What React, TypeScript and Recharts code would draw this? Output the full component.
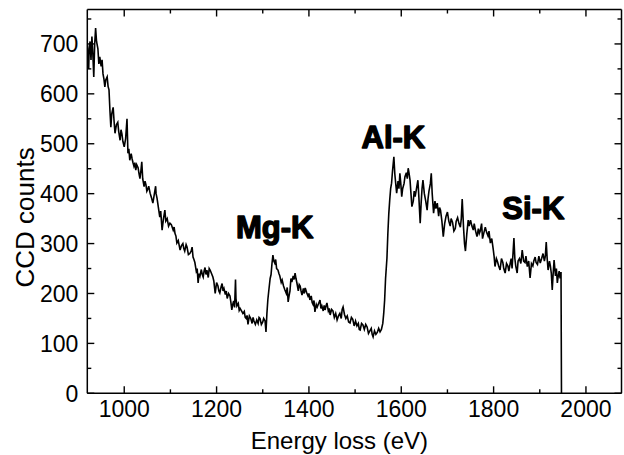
import React from 'react';
import { LineChart, Line, XAxis, YAxis, ReferenceDot } from 'recharts';

// [energy loss (eV), CCD counts], split by region
const preEdge: [number, number][] = [
  [920, 700], [921, 672], [923, 650], [924, 690], [926, 705], [928, 668], [930, 715], [932, 680], [934, 634], [936, 700],
  [938, 732], [940, 705], [943, 690], [945, 660], [947, 674], [950, 655], [952, 668], [954, 640], [956, 630], [958, 614],
  [960, 628], [963, 634], [965, 615], [967, 608], [969, 567], [971, 533], [973, 560], [976, 573], [978, 545], [980, 521],
  [983, 538], [986, 543], [988, 525], [991, 507], [993, 528], [995, 520], [997, 505], [1000, 494], [1003, 510], [1006, 550],
  [1008, 481], [1010, 490], [1012, 467], [1015, 480], [1017, 470], [1019, 462], [1021, 455], [1023, 462], [1025, 447], [1027, 458],
  [1030, 452], [1032, 440], [1034, 430], [1036, 445], [1038, 464], [1040, 430], [1043, 414], [1045, 425], [1047, 418], [1049, 405],
  [1051, 409], [1053, 415], [1056, 401], [1059, 392], [1062, 381], [1065, 398], [1068, 415], [1069, 400], [1071, 391], [1074, 372],
  [1077, 353], [1079, 365], [1082, 327], [1085, 350], [1088, 367], [1090, 345], [1093, 350], [1096, 335], [1099, 341], [1102, 338],
  [1106, 327], [1108, 333], [1110, 320], [1112, 315], [1114, 301], [1117, 306], [1121, 287], [1124, 296], [1127, 300], [1129, 290],
  [1131, 285], [1134, 298], [1136, 293], [1139, 278], [1142, 280], [1145, 285], [1147, 293], [1149, 273], [1151, 268], [1153, 262],
  [1156, 245], [1158, 250], [1160, 221], [1162, 240], [1164, 235], [1167, 248], [1169, 238], [1171, 233], [1173, 245], [1175, 252],
  [1177, 238], [1179, 247], [1182, 232], [1184, 250], [1186, 247], [1189, 240], [1192, 233], [1194, 225], [1197, 200], [1200, 222],
  [1203, 215], [1205, 205], [1207, 201], [1210, 214], [1212, 220], [1214, 205], [1216, 210], [1219, 198], [1221, 205], [1223, 190],
  [1226, 200], [1229, 195], [1231, 182], [1233, 167], [1235, 178], [1237, 185], [1239, 172], [1241, 228], [1242, 190], [1244, 175],
  [1247, 180], [1249, 166], [1251, 170], [1254, 165], [1257, 160], [1260, 164], [1262, 152], [1264, 150], [1266, 156], [1268, 138],
  [1271, 155], [1274, 150], [1277, 140], [1279, 152], [1281, 145], [1284, 138], [1287, 147], [1290, 140], [1292, 152], [1294, 150],
  [1297, 138], [1300, 143], [1302, 150], [1305, 145], [1307, 123],
];

const mgRegion: [number, number][] = [
  [1309, 160], [1311, 187], [1313, 205], [1316, 230], [1318, 238], [1320, 260], [1322, 277], [1324, 265], [1326, 261], [1328, 268],
  [1330, 250], [1333, 247], [1335, 240], [1337, 235], [1340, 222], [1342, 227], [1345, 215], [1348, 207], [1351, 200], [1353, 212],
  [1355, 183], [1357, 195], [1359, 205], [1361, 230], [1363, 223], [1366, 235], [1368, 228], [1370, 241], [1372, 230], [1374, 221],
  [1377, 205], [1379, 218], [1381, 215], [1383, 205], [1385, 197], [1388, 210], [1390, 200], [1392, 211], [1395, 202], [1398, 195],
  [1400, 200], [1402, 187], [1405, 195], [1407, 182], [1409, 178], [1411, 186], [1413, 163], [1416, 178], [1418, 173], [1421, 180],
  [1424, 187], [1426, 170], [1428, 175], [1431, 165], [1433, 176], [1435, 167], [1437, 175], [1439, 181], [1442, 165], [1444, 170],
  [1446, 157], [1449, 168], [1452, 165], [1455, 152], [1458, 160], [1461, 147], [1464, 155], [1467, 160], [1470, 150], [1472, 168],
  [1474, 173], [1477, 158], [1480, 150], [1483, 155], [1486, 143], [1489, 141], [1492, 152], [1495, 148], [1498, 135], [1501, 145],
  [1504, 135], [1507, 140], [1509, 128], [1511, 127], [1514, 140], [1517, 137], [1520, 128], [1523, 138], [1526, 133], [1529, 120],
  [1532, 125], [1535, 130], [1537, 118], [1539, 113], [1542, 125], [1545, 118], [1548, 122], [1551, 130], [1554, 123], [1557, 128],
  [1560, 140],
];

const alRegion: [number, number][] = [
  [1562, 160], [1564, 187], [1566, 230], [1569, 271], [1571, 321], [1573, 360], [1575, 387], [1577, 410], [1579, 421], [1581, 445],
  [1584, 474], [1586, 440], [1588, 420], [1590, 401], [1593, 425], [1595, 410], [1597, 441], [1599, 420], [1601, 394], [1603, 410],
  [1606, 420], [1608, 434], [1611, 442], [1613, 430], [1615, 451], [1617, 440], [1619, 427], [1621, 400], [1623, 374], [1626, 385],
  [1628, 405], [1630, 394], [1633, 410], [1636, 427], [1638, 395], [1641, 341], [1643, 380], [1645, 410], [1647, 427], [1650, 400],
  [1653, 385], [1656, 367], [1658, 390], [1660, 405], [1663, 420], [1665, 441], [1667, 400], [1670, 361], [1673, 385], [1675, 370],
  [1678, 381], [1681, 355], [1683, 372], [1685, 367], [1688, 345], [1691, 314], [1694, 340], [1697, 355], [1700, 363], [1703, 345],
  [1706, 335], [1708, 350], [1711, 343], [1714, 325], [1717, 330], [1719, 345], [1722, 352], [1725, 340], [1728, 333], [1730, 350],
  [1732, 389], [1735, 330], [1737, 300], [1739, 285], [1742, 320], [1745, 347], [1747, 335], [1750, 347], [1753, 335], [1756, 327],
  [1758, 340], [1761, 325], [1764, 314], [1767, 330], [1769, 320], [1771, 325], [1774, 340], [1776, 310], [1779, 322], [1782, 333],
  [1785, 322], [1788, 315], [1790, 325], [1793, 301], [1796, 310], [1799, 290],
];

const siRegion: [number, number][] = [
  [1801, 275], [1803, 254], [1806, 270], [1808, 265], [1811, 255], [1814, 247], [1817, 270], [1820, 262], [1822, 250], [1825, 241],
  [1828, 260], [1831, 255], [1833, 245], [1836, 261], [1838, 270], [1840, 250], [1842, 280], [1844, 311], [1846, 270], [1848, 255],
  [1851, 241], [1853, 265], [1856, 270], [1859, 260], [1862, 287], [1865, 265], [1868, 262], [1870, 275], [1873, 254], [1876, 265],
  [1879, 231], [1882, 260], [1885, 255], [1887, 265], [1890, 273], [1892, 262], [1895, 258], [1898, 275], [1901, 261], [1904, 270],
  [1907, 280], [1910, 265], [1912, 275], [1914, 303], [1916, 270], [1918, 247], [1921, 265], [1923, 255], [1925, 240], [1927, 207],
  [1929, 240], [1931, 267], [1934, 235], [1936, 250], [1938, 221], [1940, 235], [1942, 245], [1944, 230], [1946, 243], [1947, 0],
];

const xTicks = [1000, 1100, 1200, 1300, 1400, 1500, 1600, 1700, 1800, 1900, 2000];
const yTicks = [0, 50, 100, 150, 200, 250, 300, 350, 400, 450, 500, 550, 600, 650, 700, 750];

const peakNames = ['Mg-K', 'Al-K', 'Si-K'];
const peakEnergy = [1326, 1583, 1886];
const peakCounts = [334, 514, 371];

const X_DOMAIN: [number, number] = [920, 2077];
const Y_DOMAIN: [number, number] = [0, 769];

const data = [...preEdge, ...mgRegion, ...alRegion, ...siRegion].map(([e, c]) => ({ e, c }));

const FONT = '"Liberation Sans", Arial, Helvetica, sans-serif';
const MAJOR = 7;
const MINOR = 4;
const TICK_FS = 23;

const BottomTick = (props: any) => {
  const { x, y, payload } = props;
  const v = payload.value;
  const major = v % 200 === 0;
  return (
    <g>
      <line x1={x} x2={x} y1={y} y2={y - (major ? MAJOR : MINOR)} stroke="#000" strokeWidth={1.4} />
      {major && (
        <text x={x} y={y + 24} textAnchor="middle" fontSize={TICK_FS} fontFamily={FONT} fill="#000">
          {v}
        </text>
      )}
    </g>
  );
};

const TopTick = (props: any) => {
  const { x, y, payload } = props;
  const major = payload.value % 200 === 0;
  return <line x1={x} x2={x} y1={y} y2={y + (major ? MAJOR : MINOR)} stroke="#000" strokeWidth={1.4} />;
};

const LeftTick = (props: any) => {
  const { x, y, payload } = props;
  const v = payload.value;
  const major = v % 100 === 0;
  return (
    <g>
      <line x1={x} x2={x + (major ? MAJOR : MINOR)} y1={y} y2={y} stroke="#000" strokeWidth={1.4} />
      {major && (
        <text x={x - 9} y={y} dy="0.36em" textAnchor="end" fontSize={TICK_FS} fontFamily={FONT} fill="#000">
          {v}
        </text>
      )}
    </g>
  );
};

const RightTick = (props: any) => {
  const { x, y, payload } = props;
  const major = payload.value % 100 === 0;
  return <line x1={x} x2={x - (major ? MAJOR : MINOR)} y1={y} y2={y} stroke="#000" strokeWidth={1.4} />;
};

const peakLabel = (name: string) => (props: any) => {
  const vb = props.viewBox || {};
  const cx = (vb.x ?? 0) + (vb.width ?? 0) / 2;
  const cy = (vb.y ?? 0) + (vb.height ?? 0) / 2;
  return (
    <text
      x={cx}
      y={cy}
      dy="0.36em"
      textAnchor="middle"
      fontSize={31}
      fontWeight="bold"
      fontFamily={FONT}
      fill="#000"
      stroke="#000"
      strokeWidth={1.4}
      strokeLinejoin="round"
    >
      {name}
    </text>
  );
};

const yTitle = (props: any) => {
  const vb = props.viewBox || {};
  const cx = (vb.x ?? 0) + 17;
  const cy = (vb.y ?? 0) + (vb.height ?? 0) / 2 + 16;
  return (
    <text
      x={cx}
      y={cy}
      transform={`rotate(-90 ${cx} ${cy})`}
      textAnchor="middle"
      dy="0.36em"
      fontSize={26}
      fontFamily={FONT}
      fill="#000"
    >
      CCD counts
    </text>
  );
};

const xTitle = (props: any) => {
  const vb = props.viewBox || {};
  const cx = (vb.x ?? 0) + (vb.width ?? 0) / 2 - 15;
  const cy = (vb.y ?? 0) + 56;
  return (
    <text x={cx} y={cy} textAnchor="middle" fontSize={24} fontFamily={FONT} fill="#000">
      Energy loss (eV)
    </text>
  );
};

export default function App() {
  return (
    <div style={{ position: 'absolute', left: 0, top: 0, width: 624, height: 455, background: '#fff' }}>
      <LineChart
        width={624}
        height={455}
        data={data}
        margin={{ top: 8.5, right: 1.5, left: 7.3, bottom: 1.7 }}
      >
        <XAxis
          xAxisId="b"
          dataKey="e"
          type="number"
          domain={X_DOMAIN}
          allowDataOverflow
          ticks={xTicks}
          interval={0}
          tickSize={0}
          tickMargin={0}
          tickLine={false}
          tick={<BottomTick />}
          axisLine={{ stroke: '#000', strokeWidth: 1.5 }}
          height={60}
          label={{ content: xTitle }}
        />
        <XAxis
          xAxisId="t"
          dataKey="e"
          type="number"
          orientation="top"
          domain={X_DOMAIN}
          allowDataOverflow
          ticks={xTicks}
          interval={0}
          tickSize={0}
          tickMargin={0}
          tickLine={false}
          tick={<TopTick />}
          axisLine={{ stroke: '#000', strokeWidth: 1.5 }}
          height={1}
        />
        <YAxis
          yAxisId="l"
          type="number"
          domain={Y_DOMAIN}
          allowDataOverflow
          ticks={yTicks}
          interval={0}
          tickSize={0}
          tickMargin={0}
          tickLine={false}
          tick={<LeftTick />}
          axisLine={{ stroke: '#000', strokeWidth: 1.5 }}
          width={80}
          label={{ content: yTitle }}
        />
        <YAxis
          yAxisId="r"
          type="number"
          orientation="right"
          domain={Y_DOMAIN}
          allowDataOverflow
          ticks={yTicks}
          interval={0}
          tickSize={0}
          tickMargin={0}
          tickLine={false}
          tick={<RightTick />}
          axisLine={{ stroke: '#000', strokeWidth: 1.5 }}
          width={1}
        />
        <Line
          xAxisId="b"
          yAxisId="l"
          dataKey="c"
          type="linear"
          stroke="#000"
          strokeWidth={1.6}
          dot={false}
          isAnimationActive={false}
        />
        {peakNames.map((n, i) => (
          <ReferenceDot
            key={n}
            xAxisId="b"
            yAxisId="l"
            x={peakEnergy[i]}
            y={peakCounts[i]}
            r={0.1}
            fill="none"
            stroke="none"
            label={{ content: peakLabel(n) }}
          />
        ))}
      </LineChart>
    </div>
  );
}
